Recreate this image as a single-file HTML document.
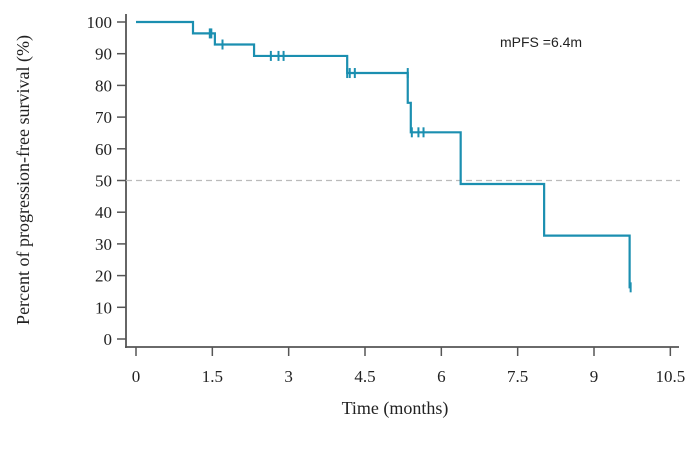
<!DOCTYPE html>
<html><head><meta charset="utf-8"><style>
body{margin:0;background:#fff;}
svg{display:block;font-family:"Liberation Serif",serif;}
</style></head><body>
<svg id="chart" width="700" height="467" viewBox="0 0 700 467"></svg>
<script>
const stepTimes=[0,1.12,1.55,2.32,4.15,5.34,5.4,6.38,8.02,9.7];
const stepSurv=[100,96.4,92.9,89.3,83.9,74.5,65.2,48.9,32.6,16.3];
const censorTimes=[1.45,1.48,1.7,2.65,2.8,2.9,4.15,4.2,4.3,5.34,5.42,5.55,5.65,9.72];
const censorSurv=[96.4,96.4,92.9,89.3,89.3,89.3,83.9,83.9,83.9,83.9,65.2,65.2,65.2,16.3];
const xTicks=[0,1.5,3,4.5,6,7.5,9,10.5];
const xTickLabels=["0","1.5","3","4.5","6","7.5","9","10.5"];
const yTicks=[0,10,20,30,40,50,60,70,80,90,100];
const endTime=9.72;
const medianLevel=50;

const svg=document.getElementById('chart');
const NS='http://www.w3.org/2000/svg';
const xs=t=>136+t*(594-136)/9;
const ys=v=>339-v*(339-22)/100;
function mk(tag,attrs,parent){const e=document.createElementNS(NS,tag);for(const k in attrs)e.setAttribute(k,attrs[k]);(parent||svg).appendChild(e);return e;}
const C='#555',B='#1b8fb0';
let e;
e=mk('line',{x1:126,y1:14,x2:126,y2:348,stroke:C,'stroke-width':1.8});


e=mk('line',{x1:125,y1:347,x2:679,y2:347,stroke:C,'stroke-width':1.8});


yTicks.forEach(v=>{
 e=mk('line',{x1:117,y1:ys(v),x2:126,y2:ys(v),stroke:C,'stroke-width':1.5});
 
 
 e=mk('text',{x:112,y:ys(v)+6,'text-anchor':'end','font-size':17,fill:'#222'});
 e.textContent=v;
 
 
});
xTicks.forEach((t,i)=>{
 e=mk('line',{x1:xs(t),y1:347,x2:xs(t),y2:356,stroke:C,'stroke-width':1.5});
 
 
 e=mk('text',{x:xs(t),y:382,'text-anchor':'middle','font-size':17,fill:'#222'});
 e.textContent=xTickLabels[i];
 
 
});
e=mk('line',{x1:126,y1:ys(medianLevel),x2:680,y2:ys(medianLevel),stroke:'#bbb','stroke-width':1.3,'stroke-dasharray':'6,4'});


let d='M'+xs(stepTimes[0])+','+ys(stepSurv[0]);
for(let i=1;i<stepTimes.length;i++){d+=' H'+xs(stepTimes[i])+' V'+ys(stepSurv[i]);}
d+=' H'+xs(endTime);
e=mk('path',{d:d,fill:'none',stroke:B,'stroke-width':2.2});


censorTimes.forEach((t,i)=>{
 e=mk('line',{x1:xs(t),y1:ys(censorSurv[i])-5,x2:xs(t),y2:ys(censorSurv[i])+5,stroke:B,'stroke-width':2});
 
 
});
e=mk('text',{x:500,y:47,'font-size':14,fill:'#222','font-family':'Liberation Sans, sans-serif'});
e.textContent='mPFS =6.4m';


e=mk('text',{x:395,y:414,'text-anchor':'middle','font-size':18,fill:'#222'});
e.textContent='Time (months)';


e=mk('text',{x:0,y:0,'text-anchor':'middle','font-size':18,fill:'#222',transform:'translate(29,180) rotate(-90)'});
e.textContent='Percent of progression-free survival (%)';


</script>
</body></html>
